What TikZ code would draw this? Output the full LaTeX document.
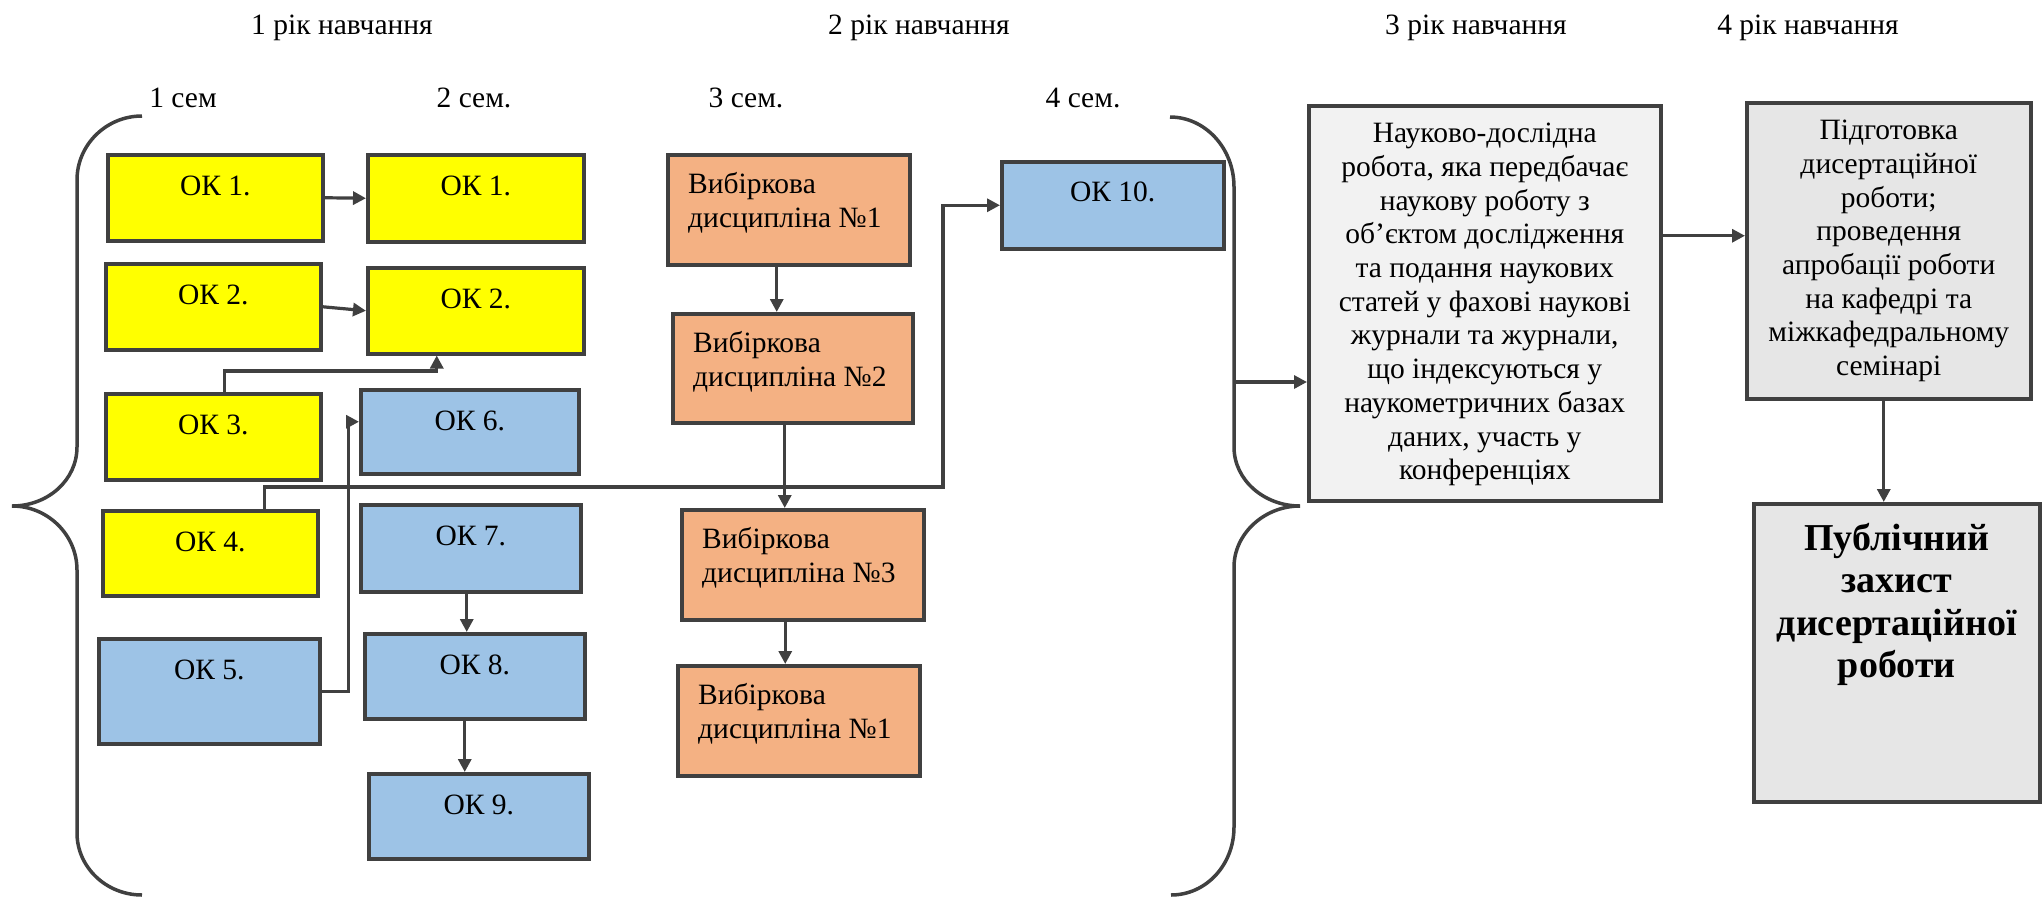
\documentclass[tikz,border=0pt]{standalone}
\usepackage{fontspec}
\setmainfont{Liberation Serif}
\usetikzlibrary{arrows.meta,calc}
\definecolor{edge}{HTML}{404040}
\definecolor{ylw}{HTML}{FFFF00}
\definecolor{blu}{HTML}{9DC3E6}
\definecolor{org}{HTML}{F4B183}
\definecolor{lgr}{HTML}{F2F2F2}
\definecolor{mgr}{HTML}{E6E6E6}
\begin{document}
\begin{tikzpicture}[x=1pt,y=-1pt,
  font=\fontsize{29.5}{33.7}\selectfont,
  box/.style={draw=edge, line width=3.5pt, anchor=north west, inner sep=0pt},
  txt/.style={anchor=base, inner sep=0pt},
  mtxt/.style={anchor=north, inner sep=0pt, align=center},
  conn/.style={draw=edge, line width=3.2pt, -{Triangle[length=13pt,width=13pt]}},
  bracestyle/.style={draw=edge, line width=3.5pt}
]
\useasboundingbox (0,0) rectangle (2043,897);

% titles
\node[txt] (y1) at (342,34) {1 рік навчання};
\node[txt] (y2) at (919,34) {2 рік навчання};
\node[txt] (y3) at (1476,34) {3 рік навчання};
\node[txt] (y4) at (1808,34) {4 рік навчання};
\node[txt] (s1) at (183,107) {1 сем};
\node[txt] (s2) at (474,107) {2 сем.};
\node[txt] (s3) at (746,107) {3 сем.};
\node[txt] (s4) at (1083,107) {4 сем.};

% semester 1
\node[box, fill=ylw, minimum width=215pt, minimum height=86pt] (ok1a) at (106,153) {};
\node[txt] (ok1a-t) at ([yshift=-42pt]ok1a.north) {ОК 1.};
\node[box, fill=ylw, minimum width=215pt, minimum height=86pt] (ok2a) at (104,262) {};
\node[txt] (ok2a-t) at ([yshift=-42pt]ok2a.north) {ОК 2.};
\node[box, fill=ylw, minimum width=215pt, minimum height=86pt] (ok3a) at (104,392) {};
\node[txt] (ok3a-t) at ([yshift=-42pt]ok3a.north) {ОК 3.};
\node[box, fill=ylw, minimum width=215pt, minimum height=85pt] (ok4) at (101,509) {};
\node[txt] (ok4-t) at ([yshift=-42pt]ok4.north) {ОК 4.};
\node[box, fill=blu, minimum width=221pt, minimum height=105pt] (ok5) at (97,637) {};
\node[txt] (ok5-t) at ([yshift=-42pt]ok5.north) {ОК 5.};

% semester 2
\node[box, fill=ylw, minimum width=216pt, minimum height=87pt] (ok1b) at (366,153) {};
\node[txt] (ok1b-t) at ([yshift=-42pt]ok1b.north) {ОК 1.};
\node[box, fill=ylw, minimum width=216pt, minimum height=86pt] (ok2b) at (366,266) {};
\node[txt] (ok2b-t) at ([yshift=-42pt]ok2b.north) {ОК 2.};
\node[box, fill=blu, minimum width=218pt, minimum height=84pt] (ok6) at (359,388) {};
\node[txt] (ok6-t) at ([yshift=-42pt]ok6.north) {ОК 6.};
\node[box, fill=blu, minimum width=220pt, minimum height=87pt] (ok7) at (359,503) {};
\node[txt] (ok7-t) at ([yshift=-42pt]ok7.north) {ОК 7.};
\node[box, fill=blu, minimum width=220pt, minimum height=85pt] (ok8) at (363,632) {};
\node[txt] (ok8-t) at ([yshift=-42pt]ok8.north) {ОК 8.};
\node[box, fill=blu, minimum width=220pt, minimum height=85pt] (ok9) at (367,772) {};
\node[txt] (ok9-t) at ([yshift=-42pt]ok9.north) {ОК 9.};

% semester 3
\node[box, fill=org, minimum width=242pt, minimum height=110pt] (vd1) at (666,153) {};
\node[anchor=north west, inner sep=0pt, align=left] (vd1-t) at ([xshift=22pt,yshift=-19pt]vd1.north west) {Вибіркова\\дисципліна №1};
\node[box, fill=org, minimum width=240pt, minimum height=109pt] (vd2) at (671,312) {};
\node[anchor=north west, inner sep=0pt, align=left] (vd2-t) at ([xshift=22pt,yshift=-19pt]vd2.north west) {Вибіркова\\дисципліна №2};
\node[box, fill=org, minimum width=242pt, minimum height=110pt] (vd3) at (680,508) {};
\node[anchor=north west, inner sep=0pt, align=left] (vd3-t) at ([xshift=22pt,yshift=-19pt]vd3.north west) {Вибіркова\\дисципліна №3};
\node[box, fill=org, minimum width=242pt, minimum height=110pt] (vd4) at (676,664) {};
\node[anchor=north west, inner sep=0pt, align=left] (vd4-t) at ([xshift=22pt,yshift=-19pt]vd4.north west) {Вибіркова\\дисципліна №1};

% semester 4
\node[box, fill=blu, minimum width=222pt, minimum height=87pt] (ok10) at (1000,160) {};
\node[txt] (ok10-t) at ([yshift=-41pt]ok10.north) {ОК 10.};

% years 3 and 4
\node[box, fill=lgr, minimum width=352pt, minimum height=395pt] (big) at (1307,104) {};
\node[mtxt] (big-t) at ([yshift=-19pt]big.north) {Науково-дослідна\\робота, яка передбачає\\наукову роботу з\\об’єктом дослідження\\та подання наукових\\статей у фахові наукові\\журнали та журнали,\\що індексуються у\\наукометричних базах\\даних, участь у\\конференціях};
\node[box, fill=mgr, minimum width=284pt, minimum height=296pt] (prep) at (1745,101) {};
\node[mtxt] (prep-t) at ([yshift=-19pt]prep.north) {Підготовка\\дисертаційної\\роботи;\\проведення\\апробації роботи\\на кафедрі та\\міжкафедральному\\семінарі};
\node[box, fill=mgr, minimum width=286pt, minimum height=298pt] (pub) at (1752,502) {};
\node[mtxt, font=\fontsize{38}{42.5}\selectfont\bfseries] (pub-t) at ([yshift=-21pt]pub.north) {Публічний\\захист\\дисертаційної\\роботи};

% braces
\draw[bracestyle] (142,116) .. controls (106,116) and (77,145) .. (77,180) -- (77,447)
  .. controls (77,480) and (48,506) .. (12,506)
  .. controls (48,506) and (77,535) .. (77,570) -- (77,833)
  .. controls (77,867) and (106,895) .. (142,895);
\draw[bracestyle] (1170,117) .. controls (1205,117) and (1234,148) .. (1234,187) -- (1234,447)
  .. controls (1234,480) and (1264,506) .. (1300,506)
  .. controls (1264,506) and (1234,534) .. (1234,567) -- (1234,827)
  .. controls (1234,865) and (1206,895) .. (1171,895);
\coordinate (brc) at (1234,382);

% connectors
\draw[conn] (ok1a.east) -- (ok1b.west);
\draw[conn] (ok2a.east) -- (ok2b.west);
\draw[conn] ([xshift=11pt]ok3a.north) -- ++(0,-21) -| ([xshift=-39pt]ok2b.south);
\draw[conn] (ok5.east) -- ++(27,0) |- ([yshift=10pt]ok6.west);
\draw[conn] ([xshift=54.5pt]ok4.north) -- ++(0,-22) -| ([xshift=-57pt]ok10.west) -- (ok10.west);
\draw[conn] ([xshift=-4pt]ok7.south) -- ([xshift=-4pt]ok7.south |- ok8.north);
\draw[conn] ([xshift=-10pt]ok8.south) -- ([xshift=-10pt]ok8.south |- ok9.north);
\draw[conn] ([xshift=-12pt]vd1.south) -- ([xshift=-12pt]vd1.south |- vd2.north);
\draw[conn] ([xshift=-8pt]vd2.south) -- ([xshift=-8pt]vd2.south |- vd3.north);
\draw[conn] ([xshift=-17.5pt]vd3.south) -- ([xshift=-17.5pt]vd3.south |- vd4.north);
\draw[conn] (brc) -- (brc -| big.west);
\draw[conn] ([yshift=67.5pt]big.east) -- ([yshift=67.5pt]big.east -| prep.west);
\draw[conn] ([xshift=-5pt]prep.south) -- ([xshift=-5pt]prep.south |- pub.north);
\end{tikzpicture}
\end{document}
